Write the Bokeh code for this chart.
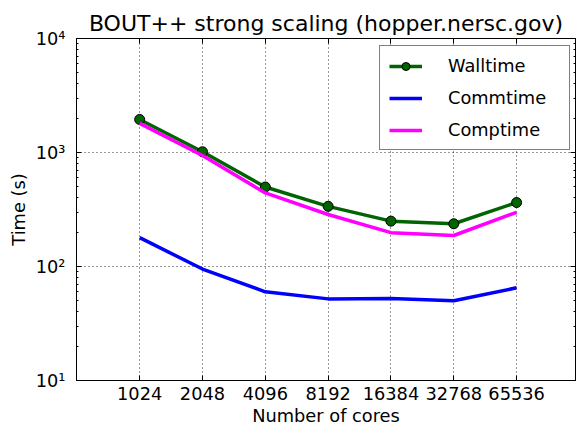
from bokeh.plotting import figure
from bokeh.models import FixedTicker, LogAxis, Legend, LegendItem, Range1d, CustomJSTickFormatter
from bokeh.embed import file_html
from bokeh.resources import INLINE

cores = [1024, 2048, 4096, 8192, 16384, 32768, 65536]
walltime = [1950, 1015, 498, 337, 250, 237, 364]
commtime = [179, 95, 60, 52, 52.5, 50, 65]
comptime = [1800, 940, 442, 286, 198, 187, 299]

x_tick_labels = {c: str(c) for c in cores}
y_ticks = [10, 100, 1000, 10000]
y_tick_labels = {10: "10\u00b9", 100: "10\u00b2", 1000: "10\u00b3", 10000: "10\u2074"}
y_minor = [m * d for d in [10, 100, 1000] for m in range(2, 10)]

FONT = "DejaVu Sans"
FS = "17.8px"

p = figure(width=576, height=428, x_axis_type="log", y_axis_type="log",
           x_range=Range1d(510, 125500), y_range=Range1d(10, 10000),
           output_backend="svg", toolbar_location=None,
           min_border_left=76, min_border_right=1, min_border_top=38, min_border_bottom=46,
           title="BOUT++ strong scaling (hopper.nersc.gov)")

p.title.text_font = FONT
p.title.text_font_size = "22px"
p.title.text_font_style = "normal"
p.title.text_color = "black"
p.title.align = "center"
p.title.standoff = 5

p.outline_line_color = "black"
p.outline_line_width = 1
p.background_fill_color = "white"
p.border_fill_color = "white"

def style_axis(ax):
    ax.axis_line_color = "black"
    ax.major_tick_in = 5
    ax.major_tick_out = 0
    ax.minor_tick_in = 2
    ax.minor_tick_out = 0
    ax.major_tick_line_color = "black"
    ax.minor_tick_line_color = "black"
    ax.major_label_text_font = FONT
    ax.major_label_text_font_size = FS
    ax.major_label_text_color = "black"
    ax.axis_label_text_font = FONT
    ax.axis_label_text_font_size = FS
    ax.axis_label_text_font_style = "normal"
    ax.axis_label_text_color = "black"

xax = p.xaxis[0]
yax = p.yaxis[0]
style_axis(xax)
style_axis(yax)
xax.ticker = FixedTicker(ticks=cores)
xax.major_label_overrides = x_tick_labels
xax.axis_label = "Number of cores"
xax.major_label_standoff = 6
xax.axis_label_standoff = 2
yax.ticker = FixedTicker(ticks=y_ticks, minor_ticks=y_minor)
yax.major_label_overrides = y_tick_labels
yax.axis_label = "Time (s)"
yax.major_label_standoff = 11
yax.axis_label_standoff = 4

top = LogAxis(ticker=FixedTicker(ticks=cores), formatter=CustomJSTickFormatter(code="return ''"))
right = LogAxis(ticker=FixedTicker(ticks=y_ticks, minor_ticks=y_minor),
                formatter=CustomJSTickFormatter(code="return ''"))
for ax in (top, right):
    style_axis(ax)
    ax.major_label_text_font_size = "1px"
    ax.major_label_standoff = 0
p.add_layout(top, "above")
p.add_layout(right, "right")

p.xgrid.ticker = FixedTicker(ticks=cores)
p.ygrid.ticker = FixedTicker(ticks=y_ticks)
for g in (p.xgrid[0], p.ygrid[0]):
    g.grid_line_color = "black"
    g.grid_line_dash = "1 3"
    g.grid_line_width = 1
    g.grid_line_alpha = 0.8

lw = 3.5
wl = p.line(cores, walltime, line_color="#006400", line_width=lw)
ws = p.scatter(cores, walltime, size=10, fill_color="#006400", line_color="black", line_width=1)
cl = p.line(cores, commtime, line_color="#0000ff", line_width=lw)
pl = p.line(cores, comptime, line_color="#ff00ff", line_width=lw)

legend = Legend(items=[
    LegendItem(label="Walltime", renderers=[wl, ws]),
    LegendItem(label="Commtime", renderers=[cl]),
    LegendItem(label="Comptime", renderers=[pl]),
], location=(303, 230))
legend.label_text_font = FONT
legend.label_text_font_size = FS
legend.label_text_color = "black"
legend.border_line_color = "black"
legend.border_line_width = 1
legend.background_fill_alpha = 1.0
legend.padding = 9
legend.spacing = 11
legend.glyph_width = 33
legend.glyph_height = 20
legend.label_height = 20
legend.label_width = 112
legend.label_standoff = 26
legend.margin = 0
p.add_layout(legend, "center")

open("out.html", "w").write(file_html(p, INLINE))
